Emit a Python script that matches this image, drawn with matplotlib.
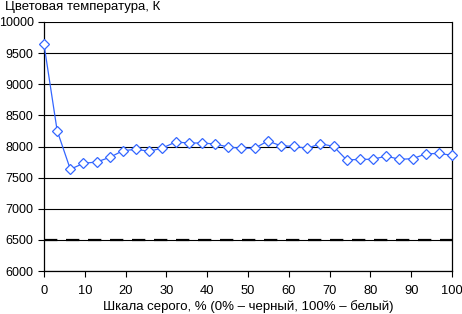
import matplotlib
matplotlib.use('Agg')
import matplotlib.pyplot as plt
import numpy as np

plt.rcParams['font.family'] = ['Liberation Sans', 'DejaVu Sans']

# gray level, % (32 steps from 0 to 100)
gray = np.linspace(0, 100, 32)
temp = [9640, 8254, 7634, 7730, 7751, 7826, 7933, 7955, 7923, 7976, 8072,
        8056, 8056, 8040, 7992, 7971, 7971, 8088, 8012, 8002, 7971, 8045,
        8002, 7783, 7794, 7794, 7847, 7794, 7804, 7880, 7890, 7858]
ref_temp = 6500

yticks = np.arange(6000, 10001, 500)
xticks = np.arange(0, 101, 10)

fig = plt.figure(figsize=(4.62, 3.14), dpi=100)
ax = fig.add_axes([44/462, 1 - 271/314, 408/462, 249/314])

for yt in yticks:
    ax.axhline(yt, color='black', lw=0.8, zorder=1)
ax.axhline(ref_temp, color='black', lw=1.6, dashes=(6.0, 3.9), zorder=2)

ax.plot(gray, temp, color='#3366ff', lw=0.9, marker='D', markersize=4.8,
        markerfacecolor='white', markeredgecolor='#3366ff', markeredgewidth=0.9,
        zorder=3, clip_on=False)

ax.set_xlim(0, 100)
ax.set_ylim(6000, 10000)
ax.set_xticks(xticks)
ax.set_yticks(yticks)
ax.tick_params(labelsize=9, length=4, width=0.8, direction='out')
ax.tick_params(axis='x', pad=6, labelsize=9.3)
ax.tick_params(axis='y', pad=3.5)
for s in ['left', 'right', 'bottom']:
    ax.spines[s].set_linewidth(0.9)
ax.spines['top'].set_visible(False)

ax.set_xlabel('Шкала серого, % (0% – черный, 100% – белый)', fontsize=9.5, labelpad=2.5)
fig.text(5/462, 1 - 10/314, 'Цветовая температура, К', fontsize=9.5, va='baseline', ha='left')

fig.savefig('out.png', dpi=100)
